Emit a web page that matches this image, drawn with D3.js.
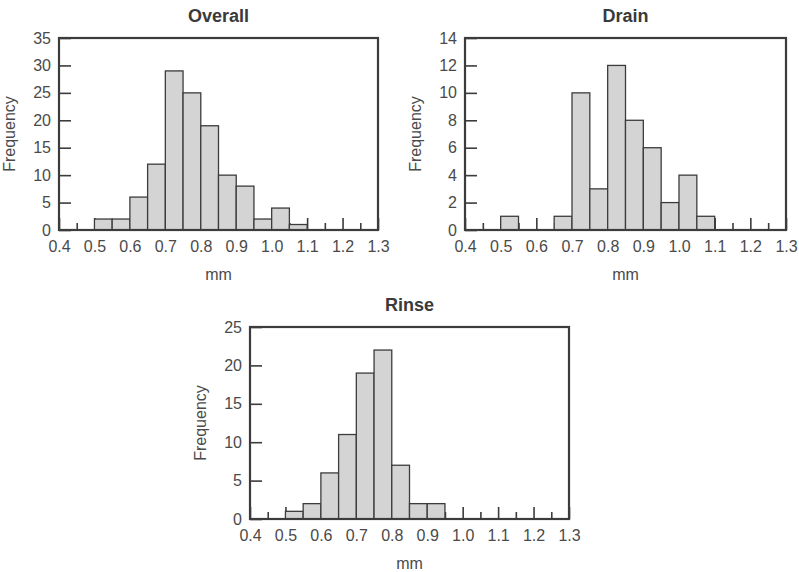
<!DOCTYPE html>
<html>
<head>
<meta charset="utf-8">
<script src="https://cdn.jsdelivr.net/npm/d3@7"></script>
<style>
  html, body { margin: 0; padding: 0; background: #fff; }
  svg { display: block; }
  text { font-family: Arial, "Liberation Sans", Helvetica, sans-serif; }
</style>
</head>
<body>
<svg id="chart" width="799" height="572"></svg>
<script>
// Bin left edges (mm); every bin is 0.05 mm wide
const binStarts = [0.50, 0.55, 0.60, 0.65, 0.70, 0.75, 0.80, 0.85, 0.90, 0.95, 1.00, 1.05];
const binWidth = 0.05;

// Frequency counts per bin
const overallCounts = [2, 2, 6, 12, 29, 25, 19, 10, 8, 2, 4, 1];
const drainCounts   = [1, 0, 0, 1, 10, 3, 12, 8, 6, 2, 4, 1];
const rinseCounts   = [1, 2, 6, 11, 19, 22, 7, 2, 2, 0, 0, 0];

// Axis ticks
const xMajorTicks = [0.4, 0.5, 0.6, 0.7, 0.8, 0.9, 1.0, 1.1, 1.2, 1.3];
const xMinorTicks = [0.45, 0.55, 0.65, 0.75, 0.85, 0.95, 1.05, 1.15, 1.25];
const overallYTicks = [0, 5, 10, 15, 20, 25, 30, 35];
const drainYTicks   = [0, 2, 4, 6, 8, 10, 12, 14];
const rinseYTicks   = [0, 5, 10, 15, 20, 25];

const panelTitles = ["Overall", "Drain", "Rinse"];
const xLabel = "mm";
const yLabel = "Frequency";

// Panel frames in page pixels
const panels = [
  { title: panelTitles[0], counts: overallCounts, yTicks: overallYTicks, x0: 59,  x1: 378, y0: 38,  y1: 230 },
  { title: panelTitles[1], counts: drainCounts,   yTicks: drainYTicks,   x0: 465, x1: 786, y0: 38,  y1: 230 },
  { title: panelTitles[2], counts: rinseCounts,   yTicks: rinseYTicks,   x0: 250, x1: 569, y0: 327, y1: 519 }
];

const svg = d3.select("#chart");
const ink = "#3c3c3c";
const textInk = "#4a4a4a";

panels.forEach(p => {
  const g = svg.append("g");
  const x = d3.scaleLinear().domain([0.4, 1.3]).range([p.x0, p.x1]);
  const y = d3.scaleLinear().domain([0, d3.max(p.yTicks)]).range([p.y1, p.y0]);

  // minor x ticks (inward, short)
  const minorAxis = g.append("g")
    .attr("transform", `translate(0,${p.y1})`)
    .call(d3.axisBottom(x).tickValues(xMinorTicks).tickSize(-7).tickFormat(""));
  // major x ticks (inward) with labels
  const majorAxis = g.append("g")
    .attr("transform", `translate(0,${p.y1})`)
    .call(d3.axisBottom(x).tickValues(xMajorTicks).tickSize(-12).tickPadding(11).tickFormat(d3.format(".1f")));
  // y ticks (inward)
  const yAxis = g.append("g")
    .attr("transform", `translate(${p.x0},0)`)
    .call(d3.axisLeft(y).tickValues(p.yTicks).tickSize(-12).tickPadding(8));

  [minorAxis, majorAxis, yAxis].forEach(a => {
    a.select(".domain").remove();
    a.selectAll(".tick line").attr("stroke", ink).attr("stroke-width", 1.6);
    a.selectAll(".tick text")
      .style("font-size", "16px")
      .attr("fill", textInk);
  });

  // bars
  const bins = binStarts.map((s, i) => ({ s, c: p.counts[i] })).filter(d => d.c > 0);
  g.append("g").selectAll("rect")
    .data(bins)
    .join("rect")
    .attr("x", d => x(d.s))
    .attr("width", d => x(d.s + binWidth) - x(d.s))
    .attr("y", d => y(d.c))
    .attr("height", d => y(0) - y(d.c))
    .attr("fill", "#d4d4d4")
    .attr("stroke", ink)
    .attr("stroke-width", 1.3);

  // frame
  g.append("rect")
    .attr("x", p.x0).attr("y", p.y0)
    .attr("width", p.x1 - p.x0).attr("height", p.y1 - p.y0)
    .attr("fill", "none")
    .attr("stroke", ink)
    .attr("stroke-width", 2.2);

  const cx = (p.x0 + p.x1) / 2;
  // title
  g.append("text")
    .attr("x", cx).attr("y", p.y0 - 16)
    .attr("text-anchor", "middle")
    .style("font-size", "18px").style("font-weight", "bold")
    .attr("fill", "#3a3a3a")
    .text(p.title);
  // x label
  g.append("text")
    .attr("x", cx).attr("y", p.y1 + 50)
    .attr("text-anchor", "middle")
    .style("font-size", "16px")
    .attr("fill", textInk)
    .text(xLabel);
  // y label
  g.append("text")
    .attr("transform", `translate(${p.x0 - 44},${(p.y0 + p.y1) / 2}) rotate(-90)`)
    .attr("text-anchor", "middle")
    .style("font-size", "16px")
    .attr("fill", textInk)
    .text(yLabel);
});
</script>
</body>
</html>
